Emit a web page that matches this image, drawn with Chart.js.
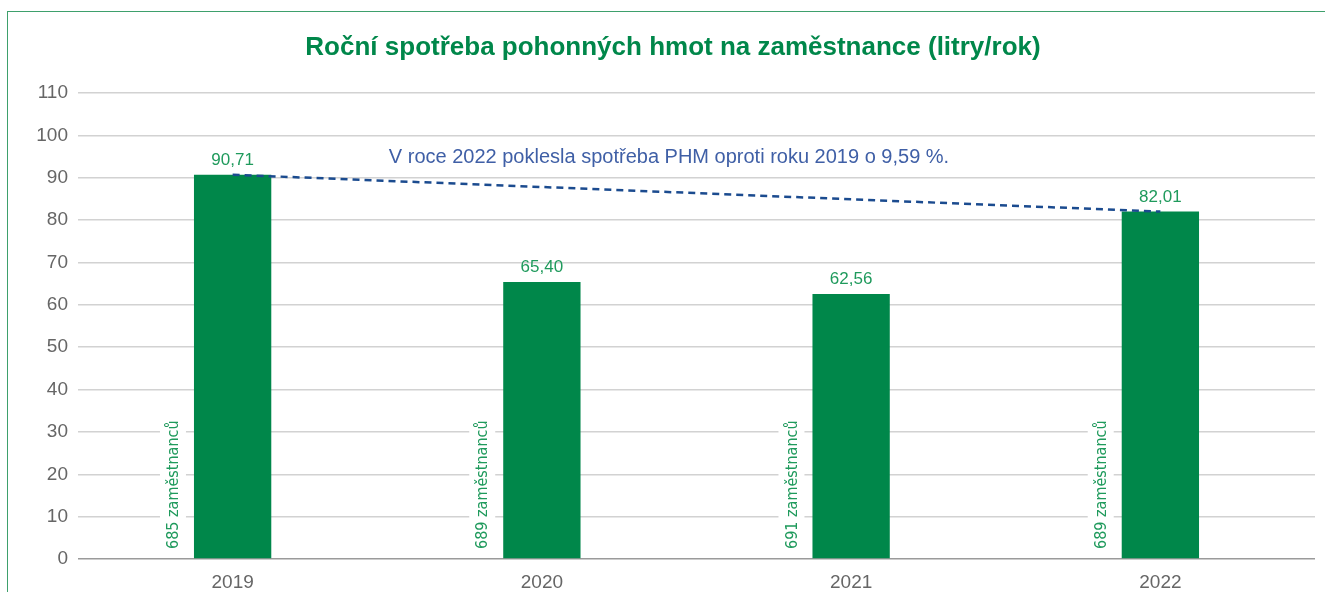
<!DOCTYPE html>
<html lang="cs">
<head>
<meta charset="utf-8">
<title>Roční spotřeba pohonných hmot</title>
<script src="https://cdn.jsdelivr.net/npm/chart.js@4.4.0/dist/chart.umd.min.js"></script>
<style>
    html, body { margin: 0; padding: 0; background: #fff; }
    body { width: 1325px; height: 592px; position: relative; overflow: hidden; }
    #frame { position: absolute; left: 7px; top: 11px; right: -2px; bottom: -2px;
             border-left: 1px solid #3ea06c; border-top: 1px solid #3ea06c; }
    #wrap { position: absolute; left: 0; top: 0; width: 1325px; height: 592px; }
</style>
</head>
<body>
<div id="frame"></div>
<div id="wrap"><canvas id="mainChart" width="1325" height="592"></canvas></div>
<script>
// Data
const years = ['2019', '2020', '2021', '2022'];
const consumption = [90.71, 65.40, 62.56, 82.01];
const valueLabels = ['90,71', '65,40', '62,56', '82,01'];
const employees = [685, 689, 691, 689];
const trendLine = [90.71, null, null, 82.01];
const titleText = 'Roční spotřeba pohonných hmot na zaměstnance (litry/rok)';
const noteText = 'V roce 2022 poklesla spotřeba PHM oproti roku 2019 o 9,59 %.';

const GREEN = '#00874a';
const LABEL_GREEN = '#1f9a5c';
const FONT = "'Liberation Sans', Arial, sans-serif";
const NARROW = "'Liberation Sans Narrow', 'DejaVu Sans Condensed', sans-serif";

// titulek, popisky hodnot, svislé popisky a poznámka
const extraText = {
    id: 'extraText',
    afterDatasetsDraw(chart) {
        const ctx = chart.ctx;
        const meta = chart.getDatasetMeta(1);
        const y = chart.scales.y;
        ctx.save();

        // titulek
        ctx.fillStyle = GREEN;
        ctx.font = "bold 26px " + FONT;
        ctx.textAlign = 'center';
        ctx.textBaseline = 'middle';
        ctx.fillText(titleText, 673, 48);

        meta.data.forEach((bar, i) => {
            // hodnota nad sloupcem
            ctx.font = "17px " + FONT;
            ctx.fillStyle = LABEL_GREEN;
            ctx.textAlign = 'center';
            ctx.textBaseline = 'alphabetic';
            ctx.fillText(valueLabels[i], bar.x, bar.y - 10);

            // počet zaměstnanců (svisle)
            const txt = employees[i] + ' zaměstnanců';
            ctx.font = "16px " + NARROW;
            const w = ctx.measureText(txt).width;
            const cx = bar.x - bar.width / 2 - 21;
            const by = y.getPixelForValue(0) - 10;
            ctx.fillStyle = '#fff';
            ctx.fillRect(cx - 13, by - w - 4, 26, w + 8);
            ctx.translate(cx, by);
            ctx.rotate(-Math.PI / 2);
            ctx.fillStyle = LABEL_GREEN;
            ctx.textAlign = 'left';
            ctx.textBaseline = 'middle';
            ctx.fillText(txt, 0, 1);
            ctx.setTransform(1, 0, 0, 1, 0, 0);
        });

        // poznámka
        ctx.font = "20px " + FONT;
        ctx.fillStyle = '#3f5fa6';
        ctx.textAlign = 'center';
        ctx.textBaseline = 'middle';
        ctx.fillText(noteText, 669, 157);
        ctx.restore();
    }
};

new Chart(document.getElementById('mainChart').getContext('2d'), {
    data: {
        labels: years,
        datasets: [
            {
                type: 'line',
                data: trendLine,
                spanGaps: true,
                borderColor: '#1b4b8f',
                borderWidth: 2.5,
                borderDash: [7, 5],
                pointRadius: 0,
                fill: false,
                order: 0
            },
            {
                type: 'bar',
                data: consumption,
                backgroundColor: GREEN,
                barPercentage: 1,
                categoryPercentage: 0.25,
                order: 1
            }
        ]
    },
    options: {
        responsive: false,
        animation: false,
        layout: { padding: { left: 0, right: 10, top: 93, bottom: 0 } },
        plugins: {
            legend: { display: false },
            tooltip: { enabled: false },
            title: { display: false }
        },
        scales: {
            x: {
                grid: { display: false },
                border: { display: false },
                ticks: { color: '#666', font: { family: FONT, size: 19 }, padding: 4 },
                afterFit: s => { s.height = 33; }
            },
            y: {
                min: 0,
                max: 110,
                ticks: { stepSize: 10, color: '#666', font: { family: FONT, size: 19 }, padding: 10 },
                grid: {
                    drawTicks: false,
                    color: c => c.tick.value === 0 ? '#9a9a9a' : '#d2d2d2',
                    lineWidth: 1.5
                },
                border: { display: false },
                afterFit: s => { s.width = 78; }
            }
        }
    },
    plugins: [extraText]
});
</script>
</body>
</html>
